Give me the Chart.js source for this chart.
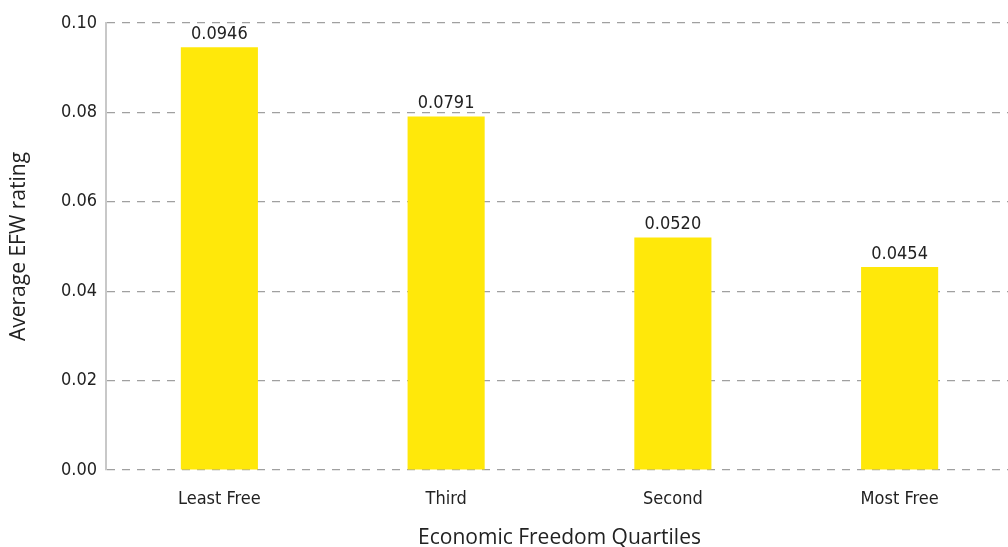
<!DOCTYPE html>
<html>
<head>
<meta charset="utf-8">
<script src="https://cdn.jsdelivr.net/npm/chart.js@4"></script>
<style>
  html, body { margin: 0; padding: 0; background: #fff; overflow: hidden; }
  #wrap { width: 1013px; height: 547px; }
</style>
</head>
<body>
<div id="wrap"><canvas id="efwChart"></canvas></div>
<script>
const categories = ['Least Free', 'Third', 'Second', 'Most Free'];
const efwValues = [0.0946, 0.0791, 0.0520, 0.0454];
const yTicks = [0, 0.02, 0.04, 0.06, 0.08, 0.10];

const narrow = "'Liberation Sans Narrow', 'DejaVu Sans Condensed', 'Roboto', sans-serif";
const plain = "'Open Sans', 'Noto Sans', sans-serif";

// draws the value above each bar
const valueLabels = {
    id: 'valueLabels',
    afterDatasetsDraw(chart) {
        const ctx = chart.ctx;
        const meta = chart.getDatasetMeta(0);
        ctx.save();
        ctx.fillStyle = '#222';
        ctx.font = '18px ' + narrow;
        ctx.textAlign = 'center';
        ctx.textBaseline = 'bottom';
        meta.data.forEach((bar, i) => {
            ctx.fillText(efwValues[i].toFixed(4), bar.x, bar.y - 4);
        });
        ctx.restore();
    }
};

const ctx = document.getElementById('efwChart').getContext('2d');
new Chart(ctx, {
    type: 'bar',
    data: {
        labels: categories,
        datasets: [{
            data: efwValues,
            backgroundColor: '#ffe80a',
            barPercentage: 0.34,
            categoryPercentage: 1
        }]
    },
    options: {
        responsive: true,
        maintainAspectRatio: false,
        animation: false,
        layout: { padding: { top: 23, right: 0, bottom: 0, left: 0 } },
        plugins: {
            legend: { display: false },
            tooltip: { enabled: false }
        },
        scales: {
            y: {
                min: 0,
                max: 0.1,
                afterBuildTicks: (scale) => {
                    scale.ticks = yTicks.map(v => ({ value: v }));
                },
                afterFit: (scale) => { scale.width = 106; },
                grid: {
                    color: '#a0a0a0',
                    lineWidth: 1.2,
                    drawTicks: false
                },
                border: { display: true, color: '#c8c8c8', width: 2, dash: [8, 7] },
                ticks: {
                    color: '#222',
                    padding: 9,
                    font: { family: narrow, size: 18 },
                    callback: (v) => Number(v).toFixed(2)
                },
                title: {
                    display: true,
                    text: 'Average EFW rating',
                    color: '#222',
                    font: { family: plain, size: 21 },
                    padding: { top: 6, bottom: 0 }
                }
            },
            x: {
                afterFit: (scale) => { scale.height = 77; },
                grid: { display: false },
                border: { display: false },
                ticks: {
                    color: '#222',
                    padding: 11,
                    font: { family: narrow, size: 18 }
                },
                title: {
                    display: true,
                    text: 'Economic Freedom Quartiles',
                    color: '#222',
                    font: { family: plain, size: 21 },
                    padding: { top: 0, bottom: -4 }
                }
            }
        }
    },
    plugins: [valueLabels]
});
</script>
</body>
</html>
